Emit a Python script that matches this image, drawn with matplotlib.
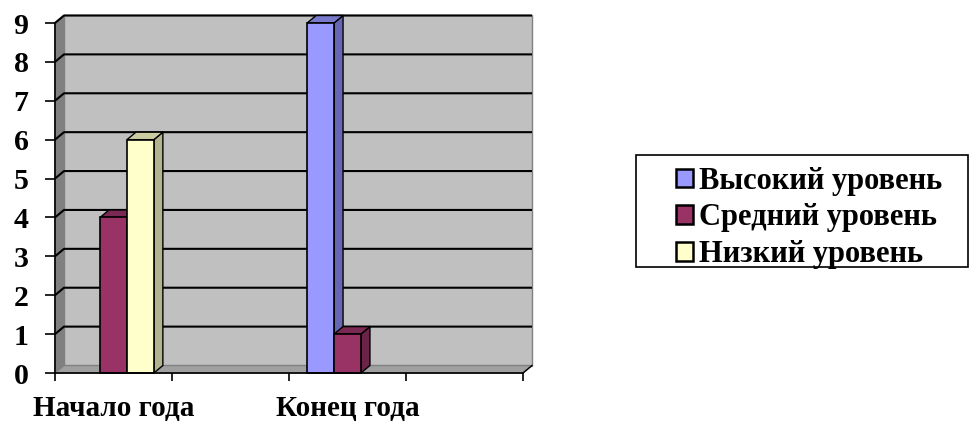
import matplotlib.pyplot as plt
from matplotlib.patches import Polygon, Rectangle

categories = ["Начало года", "", "Конец года", ""]
series_names = ["Высокий уровень", "Средний уровень", "Низкий уровень"]
high = [0, 0, 9, 0]
mid = [4, 0, 1, 0]
low = [6, 0, 0, 0]
y_ticks = [0, 1, 2, 3, 4, 5, 6, 7, 8, 9]

front_colors = ["#9999FF", "#993366", "#FFFFCC"]
side_colors = ["#6666B3", "#6B2447", "#B3B38F"]
top_colors = ["#7A7ACC", "#7A2952", "#CCCCA3"]

plt.rcParams["font.family"] = ["Liberation Serif", "DejaVu Serif"]
plt.rcParams["font.weight"] = "bold"

fig = plt.figure(figsize=(9.76, 4.23), dpi=100)
ax = fig.add_axes([55 / 976, 50 / 423, 468 / 976, 350 / 423])
ax.set_xlim(0, 4)
ax.set_ylim(0, 9)

# depth offset in data units (about 9px right, 7.5px up)
dx = 9 / 468 * 4
dy = 7.5 / 350 * 9

# walls and floor
ax.add_patch(Rectangle((dx, dy), 4, 9, facecolor="#C0C0C0", edgecolor="#808080",
                       lw=1, zorder=0, clip_on=False))
ax.add_patch(Polygon([(0, 0), (0, 9), (dx, 9 + dy), (dx, dy)], closed=True,
                     facecolor="#808080", edgecolor="#808080", lw=1, zorder=1, clip_on=False))
ax.add_patch(Polygon([(0, 0), (4, 0), (4 + dx, dy), (dx, dy)], closed=True,
                     facecolor="#A0A0A0", edgecolor="#808080", lw=1, zorder=1, clip_on=False))
for y in y_ticks[1:]:
    ax.plot([0, dx, 4 + dx], [y, y + dy, y + dy], color="black", lw=1.5, zorder=2,
            clip_on=False, solid_capstyle="butt")
ax.plot([4, 4 + dx], [0, dy], color="black", lw=1, zorder=2, clip_on=False)

# 3D bars
values = [high, mid, low]
bw = 0.23
n = len(values)
for i in range(len(categories)):
    start = i + 0.5 - bw * n / 2
    for s in range(n):
        h = values[s][i]
        if h <= 0:
            continue
        x0 = start + s * bw
        x1 = x0 + bw
        ax.add_patch(Polygon([(x1, 0), (x1, h), (x1 + dx, h + dy), (x1 + dx, dy)], closed=True,
                             facecolor=side_colors[s], edgecolor="black", lw=1, zorder=3,
                             clip_on=False))
        ax.add_patch(Polygon([(x0, h), (x1, h), (x1 + dx, h + dy), (x0 + dx, h + dy)], closed=True,
                             facecolor=top_colors[s], edgecolor="black", lw=1, zorder=3,
                             clip_on=False))
        ax.add_patch(Rectangle((x0, 0), bw, h, facecolor=front_colors[s], edgecolor="black",
                               lw=1.2, zorder=3, clip_on=False))

for sp in ["top", "right"]:
    ax.spines[sp].set_visible(False)
ax.spines["left"].set_linewidth(1.2)
ax.spines["bottom"].set_linewidth(1.2)
ax.spines["left"].set_zorder(4)
ax.spines["bottom"].set_zorder(4)
ax.patch.set_visible(False)

ax.set_yticks(y_ticks)
ax.set_yticklabels([str(v) for v in y_ticks], fontsize=21.5, fontweight="bold")
ax.tick_params(axis="y", direction="out", length=7, width=1.2, pad=12)
ax.set_xticks(range(len(categories) + 1))
ax.set_xticklabels([])
ax.tick_params(axis="x", direction="out", length=6, width=1.2)
ax.set_xticks([i + 0.5 for i in range(len(categories))], minor=True)
ax.set_xticklabels(categories, minor=True, fontsize=21, fontweight="bold")
ax.tick_params(axis="x", which="minor", length=0, pad=16)

# legend with a separate box
fig.add_artist(Rectangle((636 / 976, 1 - 267 / 423), 332 / 976, 112 / 423,
                         transform=fig.transFigure, facecolor="white", edgecolor="black",
                         lw=1.2, zorder=5))
handles = [Rectangle((0, 0), 1, 1, facecolor=c, edgecolor="black", lw=1.8) for c in front_colors]
leg = fig.legend(handles, series_names, loc="center left", bbox_to_anchor=(676 / 976, 1 - 218 / 423),
                 frameon=False, prop={"weight": "bold", "size": 22},
                 handlelength=0.55, handleheight=0.55, handletextpad=0.2,
                 labelspacing=0.26, borderpad=0, borderaxespad=0)
leg.set_zorder(6)

fig.savefig("out.png", dpi=100)
